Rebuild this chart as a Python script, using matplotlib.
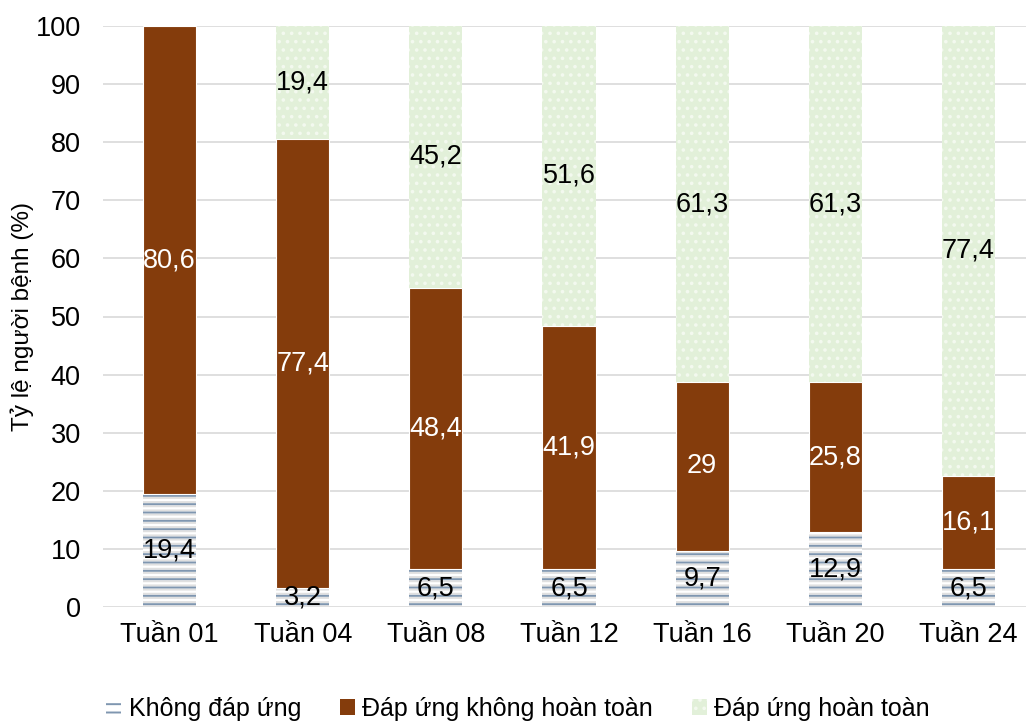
import numpy as np
import matplotlib.pyplot as plt
from matplotlib.patches import Patch

plt.rcParams['font.family'] = ['Liberation Sans', 'DejaVu Sans']
plt.rcParams['hatch.linewidth'] = 1.4

weeks = ['Tuần 01', 'Tuần 04', 'Tuần 08', 'Tuần 12', 'Tuần 16', 'Tuần 20', 'Tuần 24']
no_response = [19.4, 3.2, 6.5, 6.5, 9.7, 12.9, 6.5]
partial_response = [80.6, 77.4, 48.4, 41.9, 29, 25.8, 16.1]
full_response = [0, 19.4, 45.2, 51.6, 61.3, 61.3, 77.4]
series_names = ['Không đáp ứng', 'Đáp ứng không hoàn toàn', 'Đáp ứng hoàn toàn']

BROWN = '#843c0c'
GREEN = '#e2f0d9'
BLUE_LINE = '#7f96b0'
FS = 19.5

fig = plt.figure(figsize=(10.26, 7.22), dpi=100)
ax = fig.add_axes([103 / 1026, 115 / 722, 932 / 1026, 581 / 722])

x = np.arange(len(weeks))
w = 0.4
no = np.array(no_response)
part = np.array(partial_response)
full = np.array(full_response)

# bottom segment: light lines under darker blue lines
ax.bar(x, no, w, color='white', edgecolor='#e0e0e0', hatch='----', linewidth=0, zorder=2)
ax.bar(x, no, w, color='none', edgecolor=BLUE_LINE, hatch='--', linewidth=0, zorder=2)
ax.bar(x, part, w, bottom=no, color=BROWN, edgecolor='white', linewidth=0.8, zorder=2)
ax.bar(x, full, w, bottom=no + part, color=GREEN, edgecolor='#f3f9ef', hatch='..', linewidth=0, zorder=2)

def fmt(v):
    s = f'{v:g}'
    return s.replace('.', ',')

for i in range(len(weeks)):
    ax.text(x[i], no[i] / 2, fmt(no[i]), ha='center', va='center', fontsize=FS, color='black', zorder=3)
    ax.text(x[i], no[i] + part[i] / 2, fmt(part[i]), ha='center', va='center', fontsize=FS, color='white', zorder=3)
    if full[i] > 0:
        ax.text(x[i], no[i] + part[i] + full[i] / 2, fmt(full[i]), ha='center', va='center', fontsize=FS,
                color='black', zorder=3)

ax.set_xlim(-0.5, len(weeks) - 0.5)
ax.set_ylim(0, 100)
ax.set_yticks(np.arange(0, 101, 10))
ax.set_xticks(x)
ax.set_xticklabels(weeks)
ax.tick_params(axis='both', length=0, labelsize=FS)
ax.tick_params(axis='x', pad=11)
ax.tick_params(axis='y', pad=16)
ax.grid(axis='y', color='#d9d9d9', linewidth=1.2, zorder=0)
ax.set_axisbelow(True)
for s in ax.spines.values():
    s.set_visible(False)
ax.set_ylabel('Tỷ lệ người bệnh (%)', fontsize=17.5)
ax.yaxis.set_label_coords(-0.074, 0.5)

handles = [
    Patch(facecolor='white', edgecolor=BLUE_LINE, hatch='--', linewidth=0),
    Patch(facecolor=BROWN, edgecolor=BROWN, linewidth=0),
    Patch(facecolor=GREEN, edgecolor='#f3f9ef', hatch='..', linewidth=0),
]
fig.legend(handles, series_names, loc='lower center', bbox_to_anchor=(0.505, -0.03), ncol=3, frameon=False,
           fontsize=18, handlelength=0.6, handleheight=0.6, handletextpad=0.3, columnspacing=1.55)

fig.savefig('out.png', dpi=100)
